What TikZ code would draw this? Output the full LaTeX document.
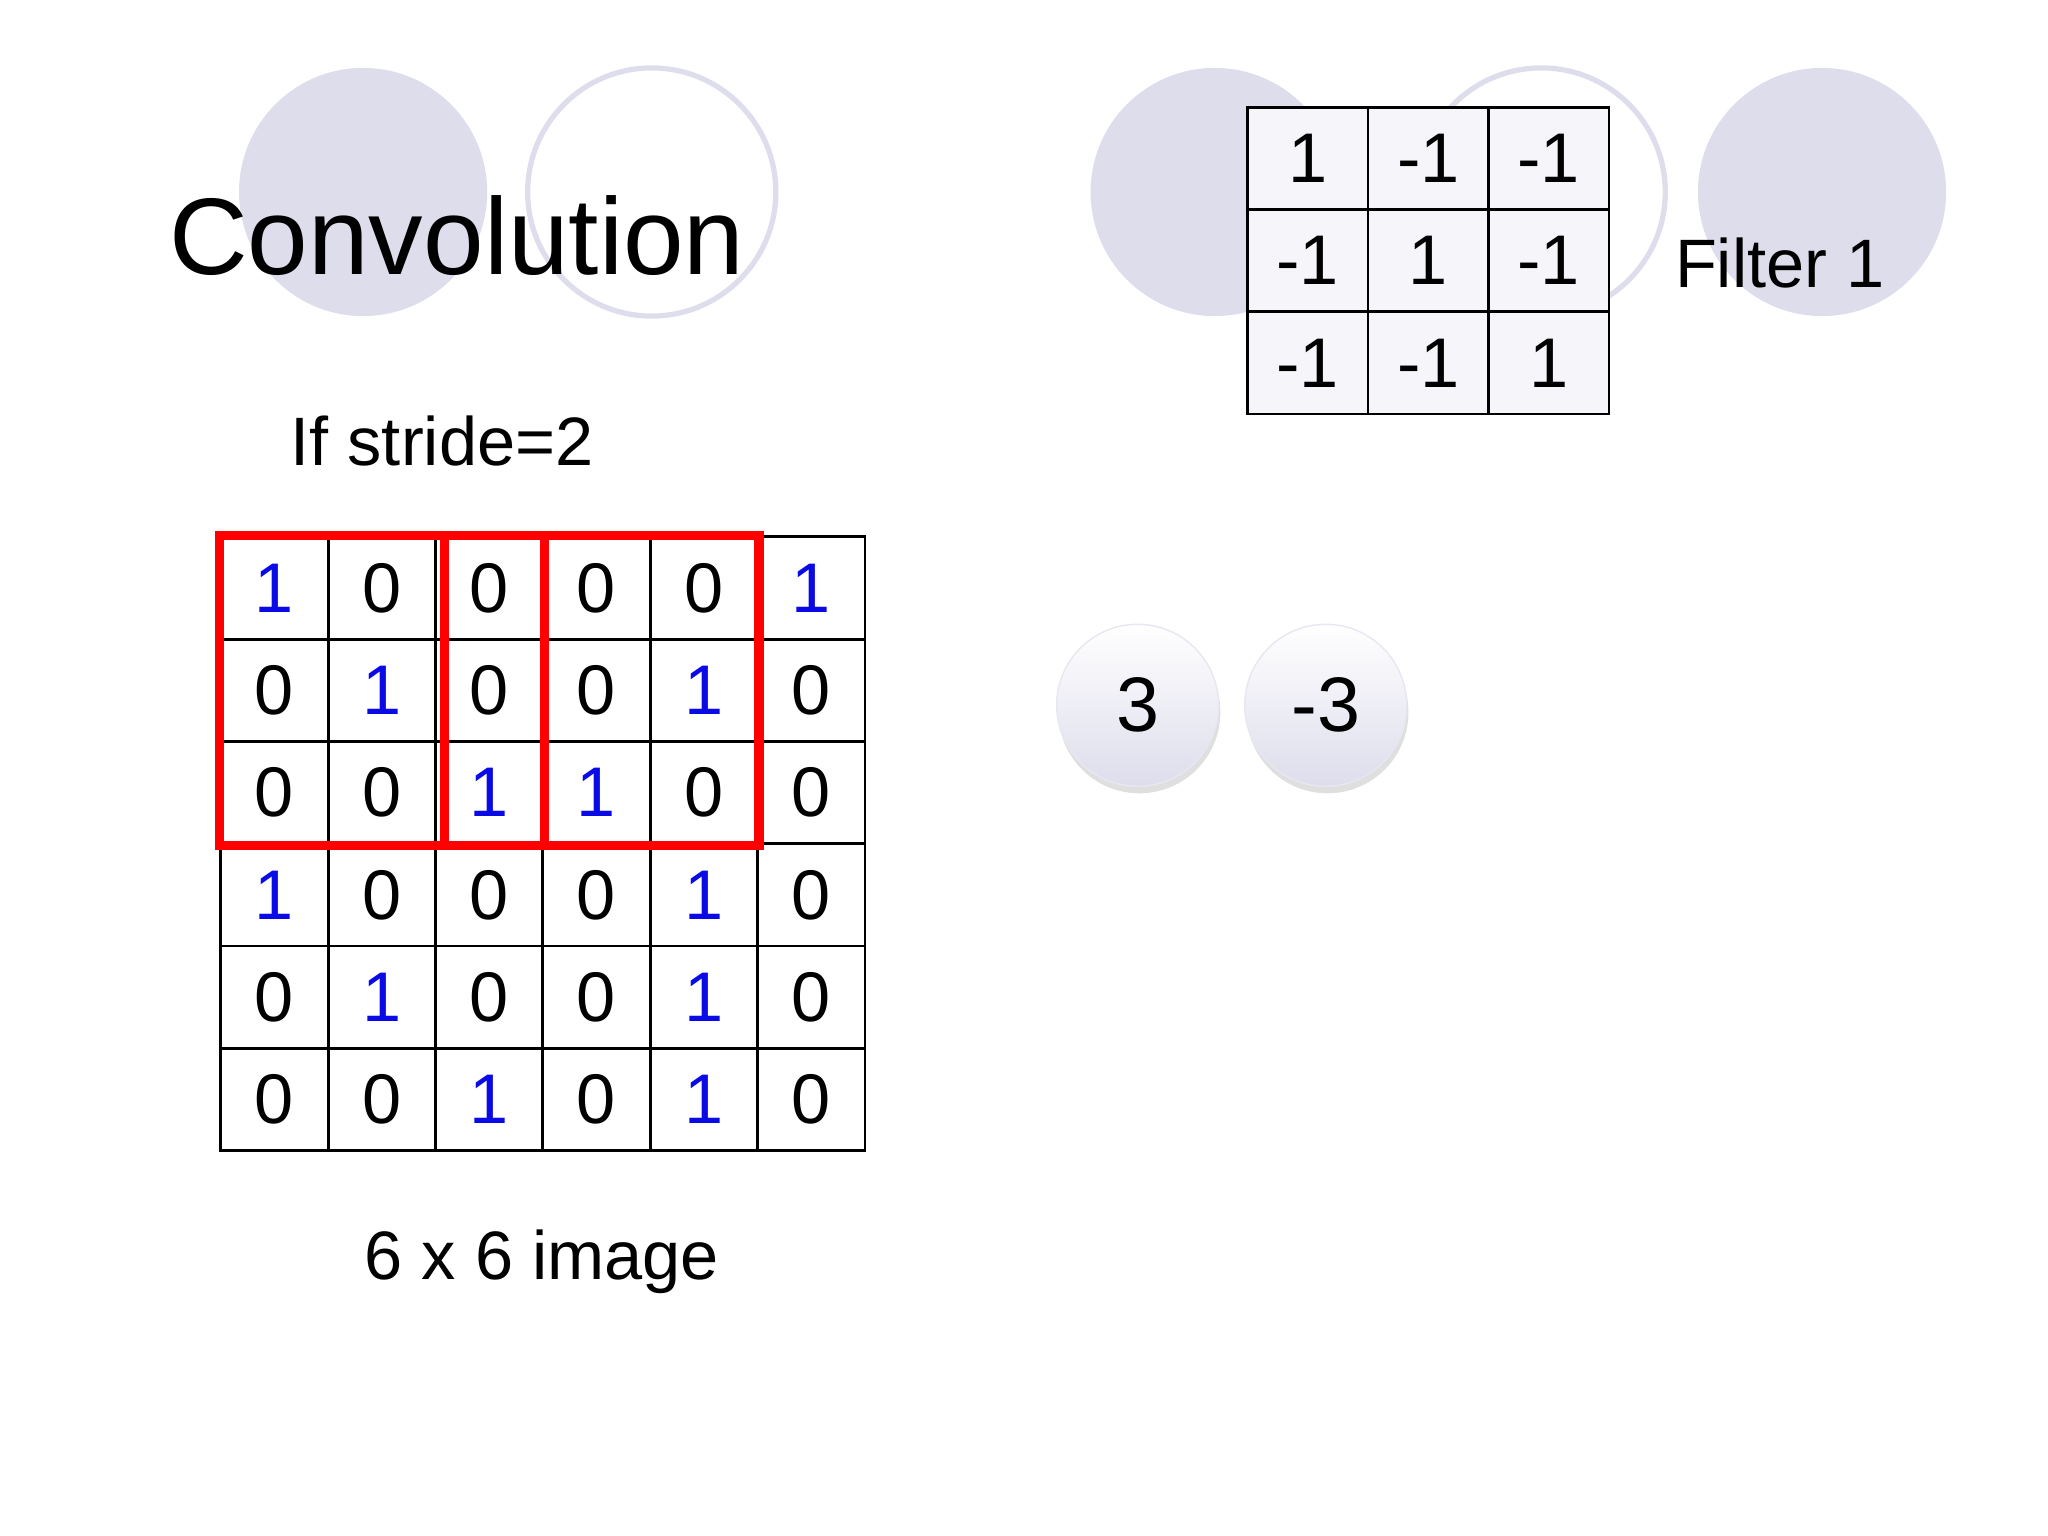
\documentclass[tikz,border=0pt]{standalone}
\usepackage{fontspec}
\setmainfont{Liberation Sans}
\usetikzlibrary{shadows}
\definecolor{lav}{RGB}{221,221,236}
\definecolor{cellbg}{RGB}{245,245,250}
\definecolor{oneblue}{RGB}{10,10,230}
\begin{document}
\begin{tikzpicture}[x=0.013061cm,y=-0.013061cm,
  deco/.style={fill=lav,draw=none},
  ring/.style={draw=lav,line width=1.5pt},
  fcell/.style={draw=black,fill=cellbg,minimum width=92.3*0.013061cm,minimum height=78.3*0.013061cm,font=\fontsize{20}{20}\selectfont,inner sep=0,line width=0.8pt},
  gcell/.style={draw=black,minimum width=82.2*0.013061cm,minimum height=78.3*0.013061cm,font=\fontsize{20}{20}\selectfont,inner sep=0,line width=0.8pt},
  redbox/.style={draw=red,line width=2.6pt},
  outc/.style={circle,minimum size=124*0.013061cm,top color=white,bottom color=lav,draw=lav!70,drop shadow={opacity=0.25,shadow xshift=0.5pt,shadow yshift=-2pt},font=\fontsize{22}{22}\selectfont}]
\useasboundingbox (0,0) rectangle (1568,1176);
\fill[deco] (278,147) circle (95);
\draw[ring] (499,147) circle (95);
\fill[deco] (930,147) circle (95);
\draw[ring] (1180,147) circle (95);
\fill[deco] (1395,147) circle (95);
\node[anchor=west,font=\fontsize{31}{31}\selectfont] (title) at (120,180) {Convolution};
% filter
\foreach \r/\row in {0/{1,-1,-1},1/{-1,1,-1},2/{-1,-1,1}}{
  \foreach \v [count=\c from 0] in \row {
    \node[fcell] (f\r\c) at (1001.2+\c*92.3,121.2+\r*78.3) {\v};
  }}
\node[anchor=west,font=\fontsize{19.5}{19.5}\selectfont] (flabel) at (1273,201) {Filter 1};
\node[anchor=west,font=\fontsize{19.5}{19.5}\selectfont] (stride) at (213,338) {If stride=2};
% image
\foreach \r/\row in {0/{1,0,0,0,0,1},1/{0,1,0,0,1,0},2/{0,0,1,1,0,0},3/{1,0,0,0,1,0},4/{0,1,0,0,1,0},5/{0,0,1,0,1,0}}{
  \foreach \v [count=\c from 0] in \row {
    \ifnum\v=1
      \node[gcell,text=oneblue] (g\r\c) at (210.1+\c*82.2,450.2+\r*78.3) {\v};
    \else
      \node[gcell] (g\r\c) at (210.1+\c*82.2,450.2+\r*78.3) {\v};
    \fi
  }}
\draw[redbox] (g00.north west) rectangle (g22.south east);
\draw[redbox] ([xshift=3pt]g02.north west) rectangle (g24.south east);
\node[font=\fontsize{19.5}{19.5}\selectfont] (cap) at (415,966) {6 x 6 image};
\node[outc] (o1) at (871,540) {3};
\node[outc] (o2) at (1015,540) {-3};
\end{tikzpicture}
\end{document}
